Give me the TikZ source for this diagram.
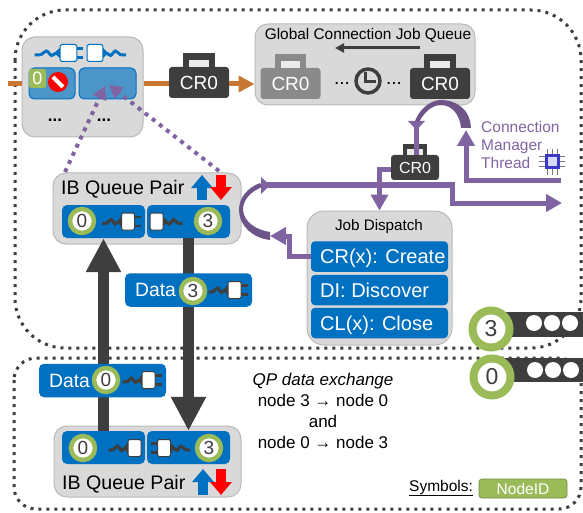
\documentclass[tikz,border=0pt]{standalone}
\usepackage{fontspec}
\setmainfont{Liberation Sans}
\usepackage{tikz}
\usetikzlibrary{positioning,calc,arrows.meta}
\definecolor{panelgray}{RGB}{217,217,217}
\definecolor{paneledge}{RGB}{185,185,185}
\definecolor{crdark}{RGB}{62,62,62}
\definecolor{crfade}{RGB}{138,138,138}
\definecolor{ibblue}{RGB}{0,112,192}
\definecolor{ringgreen}{RGB}{155,187,89}
\definecolor{cmpurple}{RGB}{128,100,162}
\definecolor{wireorange}{RGB}{200,118,50}
\newcommand{\fsz}[1]{\fontsize{#1}{#1}\selectfont}
\tikzset{
  panelbox/.style={draw=paneledge, line width=1pt, fill=panelgray, rounded corners=13pt, inner sep=0pt},
  pillbox/.style={fill=ibblue, rounded corners=5pt, minimum width=83pt, minimum height=33pt, inner sep=0pt},
  rowbox/.style={fill=ibblue, rounded corners=4pt, minimum width=137pt, minimum height=30.5pt, inner sep=0pt},
  rowtext/.style={inner sep=0pt, anchor=base west, text=white, font=\fsz{20}},
  databox/.style={fill=ibblue, rounded corners=5pt, minimum width=127pt, minimum height=33.5pt, inner sep=0pt},
  ringmark/.style={circle, draw=ringgreen, line width=4.5pt, fill=white, minimum size=24pt, inner sep=0pt, text=crdark, font=\fsz{19}},
  bigring/.style={ringmark, line width=8pt, minimum size=37pt, font=\fsz{23}},
  dotframe/.style={draw=crdark, line width=3pt, dash pattern=on 3pt off 5pt},
  dotlink/.style={draw=cmpurple, line width=4pt, dash pattern=on 4pt off 5pt, -{Triangle[length=13pt,width=14pt]}},
  cmline/.style={draw=cmpurple, line width=5pt},
  cmhead/.style={cmline, -{Triangle[length=16pt,width=17pt]}},
  orangeline/.style={draw=wireorange, line width=5pt},
  qpline/.style={draw=crdark, line width=11.5pt, -{Triangle[length=34pt,width=33pt]}},
  signal/.style={line width=10pt, -{Triangle[length=13pt,width=21pt]}},
  labeltext/.style={inner sep=0pt, anchor=west}
}
% name, x, y, width, height, colour, font size
\newcommand{\crcase}[7]{
  \node[fill=#6, rounded corners=3pt, minimum width=#4pt, minimum height=#5pt, inner sep=0pt, text=white, font=\fsz{#7}] (#1) at (#2,#3) {CR0};
  \fill[#6] (#1.north) ++(-#4*.26,0) rectangle ++(#4*.52,-#5*.45);
  \fill[white!92!black] (#1.north) ++(-#4*.16,0) rectangle ++(#4*.32,-#5*.23);
}
% x, y, direction, cable colour, outline colour, prong length
\newcommand{\plugicon}[6]{
  \begin{scope}[shift={(#1,#2)}, xscale=#3]
    \draw[#5, line width=2.5pt] (6,-4.5) -- ++(#6,0) (6,4.5) -- ++(#6,0);
    \fill[#4] (-6,-6) -- (-11,0) -- (-6,6) -- cycle;
    \draw[#4, line width=3pt] plot[smooth] coordinates {(-10,0) (-13,2.5) (-17,-2) (-21,1.5) (-26,2)};
    \draw[#5, fill=white, rounded corners=1.5pt, line width=1pt] (-6.5,-8.5) rectangle (6.5,8.5);
  \end{scope}
}
\begin{document}
\begin{tikzpicture}[x=1pt,y=-1pt]
\useasboundingbox (0,0) rectangle (583,513);

% Dotted frames
\draw[dotframe, rounded corners=50pt] (15,10) rectangle (581,348);
\draw[dotframe, rounded corners=22pt] (14,358) rectangle (581,509);

% Panels
\node[panelbox, minimum width=121pt, minimum height=100pt] (nicpanel) at (82.5,87) {};
\node[panelbox, minimum width=220pt, minimum height=81pt] (jobqueue) at (365,64.5) {};
\node[panelbox, minimum width=188pt, minimum height=71pt] (qptop) at (147,208.5) {};
\node[panelbox, minimum width=187pt, minimum height=71pt] (qpbottom) at (147.5,461.5) {};
\node[panelbox, rounded corners=17pt, minimum width=145pt, minimum height=134pt] (dispatch) at (379.5,278) {};

% Orange path
\coordinate (wirein) at (8,84);
\draw[orangeline] (wirein) -- (wirein -| nicpanel.west);
\crcase{crwire}{199}{82.5}{60}{31}{crdark}{19}
\draw[orangeline] (nicpanel.east |- wirein) -- (crwire.west |- wirein);
\draw[orangeline, -{Triangle[length=16pt,width=16pt]}] (crwire.east |- wirein) -- (jobqueue.west |- wirein);

% NIC panel
\plugicon{68.5}{53}{1.3}{ibblue}{ibblue}{5}
\plugicon{95}{53}{-1.2}{ibblue}{ibblue}{0}
\node[fill=ibblue!65!panelgray, draw=ibblue, line width=1pt, rounded corners=5pt, minimum width=46pt, minimum height=31pt] (nicleft) at (52,83.5) {};
\node[fill=ibblue!65!panelgray, draw=ibblue, line width=1pt, rounded corners=5pt, minimum width=57pt, minimum height=31pt] (nicright) at (107.5,83.5) {};
\node[fill=ringgreen, rounded corners=2pt, minimum width=17pt, minimum height=19pt, inner sep=0pt, text=white, font=\fsz{18}] (nicid) at (37.5,78.5) {0};
\node[circle, fill=red, minimum size=20pt, inner sep=0pt] (stopsign) at (58,82) {};
\draw[white, line width=4pt] (stopsign) ++(-5,-5) -- ++(10,10);
\node[font=\bfseries\fsz{17}] (dotsleft) at (55,120) {...};
\node[font=\bfseries\fsz{17}] (dotsright) at (104,120) {...};

% Global queue
\node[font=\fsz{15.4}] (queuetitle) at (368,35) {Global Connection Job Queue};
\coordinate (flowstart) at (420,48);
\coordinate (flowend) at (335,48);
\draw[crdark, line width=3pt, -{Triangle[length=9pt,width=9pt]}] (flowstart) -- (flowend);
\crcase{crold}{290.5}{83.5}{60}{31}{crfade}{19}
\crcase{crnew}{440}{83.5}{60}{31}{crdark}{19}
\node[font=\fsz{19}] (gapleft) at (342,83) {...};
\node[font=\fsz{19}] (gapright) at (394,83) {...};
\node[circle, draw=crdark, line width=3.5pt, minimum size=24pt, inner sep=0pt] (clockface) at (368,81) {};
\draw[crdark, line width=3pt] (365,72) -- (365,82) -- (376,82);

% Connection manager
\node[text=cmpurple, font=\fsz{15.5}, align=left, inner sep=0pt, anchor=north west] (cmlabel) at (481,121) {Connection\\[2.5pt]Manager\\[2.5pt]Thread};
\foreach \py in {157,162,167}
  \draw[crdark!70, line width=1pt] (539,\py) -- (565,\py);
\foreach \px in {547,552,557}
  \draw[crdark!70, line width=1pt] (\px,149) -- (\px,175);
\node[fill=blue!55!gray, minimum size=15pt, inner sep=0pt] (chip) at (552,162) {};
\node[fill=white!85!blue, minimum size=9pt, inner sep=0pt] (chipcore) at (552,162) {};

% Thread arcs
\coordinate (threadin) at (561,181);
\coordinate (arcright) at (466,130);
\draw[cmhead] (threadin) -| (arcright);
\fill[cmpurple!85!black] (471,128) .. controls (470,108) and (455,100) .. (441,100) .. controls (430,100) and (418,110) .. (414,124) -- (418,124) .. controls (424,112) and (432,105) .. (441,105) .. controls (452,105) and (460,115) .. (461,128) -- cycle;
\fill[cmpurple] (416.5,130) -- (408,121) -- (425,121) -- cycle;
\crcase{crsmall}{415}{167.5}{48}{25}{crdark}{16}
\coordinate (arcleft) at (416,124);
\draw[cmline] (arcleft) -- (crsmall.north -| arcleft);

% Bus and dispatch
\coordinate (busstart) at (263,185);
\coordinate (busbend) at (452,203);
\coordinate (busend) at (562,203);
\draw[cmhead] (busstart) -| (busbend) -- (busend);
\fill[cmpurple] (270,185) -- (261,177) -- (261,194) -- cycle;
\fill[cmpurple!85!black] (260,183) .. controls (247,188) and (239,198) .. (239,210) .. controls (239,225) and (252,238) .. (270,240) -- (270,232) .. controls (256,230) and (244,222) .. (243,210) .. controls (243,200) and (250,192) .. (262,187) -- cycle;
\draw[cmhead] (crsmall.west |- 0,170) -| (dispatch.north);

\node[font=\fsz{15.2}] (dispatchtitle) at (379,227) {Job Dispatch};
\node[rowbox] (rowcreate) at (379.5,256.5) {};
\node[rowbox] (rowdiscover) at (379.5,290) {};
\node[rowbox] (rowclose) at (379.5,323) {};
\node[rowtext] (createtext) at (320,263.5) {CR(x): Create};
\node[rowtext] (discovertext) at (320,297) {DI: Discover};
\node[rowtext] (closetext) at (320,330) {CL(x): Close};
\coordinate (arcbend) at (289,236);
\coordinate (arcend) at (270,236);
\draw[cmhead] (rowcreate.west) -| (arcbend) -- (arcend);

% Queue pairs
\node[pillbox] (pilltl) at (103.5,221.5) {};
\node[pillbox] (pilltr) at (188.5,221.5) {};
\node[pillbox] (pillbl) at (103.5,447.5) {};
\node[pillbox] (pillbr) at (188.5,447.5) {};
\node[labeltext, font=\fsz{19.6}] (qptoplabel) at (61,189) {IB Queue Pair};
\node[labeltext, font=\fsz{19.6}] (qpbottomlabel) at (62,484) {IB Queue Pair};
\draw[signal, ibblue] (202,200) -- (202,175);
\draw[signal, red] (221,175) -- (221,200);
\draw[signal, ibblue] (203,495) -- (203,469);
\draw[signal, red] (221,469) -- (221,495);

% Plugs and node ids
\plugicon{128}{221.5}{1}{crdark}{crdark}{7}
\plugicon{156.5}{221.5}{-1}{crdark}{crdark}{0}
\plugicon{134.5}{448}{1}{crdark}{crdark}{0}
\plugicon{164}{448}{-1}{crdark}{crdark}{7}
\node[ringmark] (idtl) at (82,221) {0};
\node[ringmark] (idtr) at (208,221) {3};
\node[ringmark] (idbl) at (83,448) {0};
\node[ringmark] (idbr) at (209,448) {3};

% Data exchange
\draw[qpline] (pillbl.north) -- (pilltl.south);
\draw[qpline] (pilltr.south) -- (pillbr.north);
\node[databox] (datathree) at (188.5,290) {};
\node[databox] (datazero) at (102.5,380.5) {};
\node[labeltext, text=white, font=\fsz{19.3}] (datathreelabel) at (135,290) {Data};
\node[labeltext, text=white, font=\fsz{19.3}] (datazerolabel) at (49,380.5) {Data};
\plugicon{234.5}{290}{1}{crdark}{crdark}{7}
\plugicon{148.5}{380}{1}{crdark}{crdark}{7}
\node[ringmark] (iddatathree) at (193,291) {3};
\node[ringmark] (iddatazero) at (106,380) {0};

% Links back to the NIC
\coordinate (linkleft) at (65,172);
\coordinate (linkright) at (219,171);
\coordinate (tipleft) at (105,86);
\coordinate (tipright) at (109,85);
\draw[dotlink] (linkleft) -- (tipleft);
\draw[dotlink] (linkright) -- (tipright);

% Node bars
\fill[crdark] (491,312) rectangle (583,337);
\fill[crdark] (491,358) rectangle (583,382);
\foreach \cx in {534,552,570} {
  \fill[white] (\cx,323) circle (8);
  \fill[white] (\cx+1,370) circle (8);
}
\node[bigring] (barthree) at (491,329) {3};
\node[bigring] (barzero) at (492,377) {0};

% Note and legend
\node[font=\fsz{17}, align=center, inner sep=0pt] (qpnote) at (323,411) {\textit{QP data exchange}\\[4pt]node 3 → node 0\\[4pt]and\\[4pt]node 0 → node 3};
\node[labeltext, font=\fsz{15.5}] (symbolslabel) at (409,488) {\underline{Symbols:}};
\node[fill=ringgreen, draw=ringgreen!75!black, line width=.7pt, rounded corners=3pt, minimum width=88pt, minimum height=19pt, inner sep=0pt, text=white, font=\fsz{15.5}] (nodeidkey) at (523,488.5) {NodeID};
\end{tikzpicture}
\end{document}
